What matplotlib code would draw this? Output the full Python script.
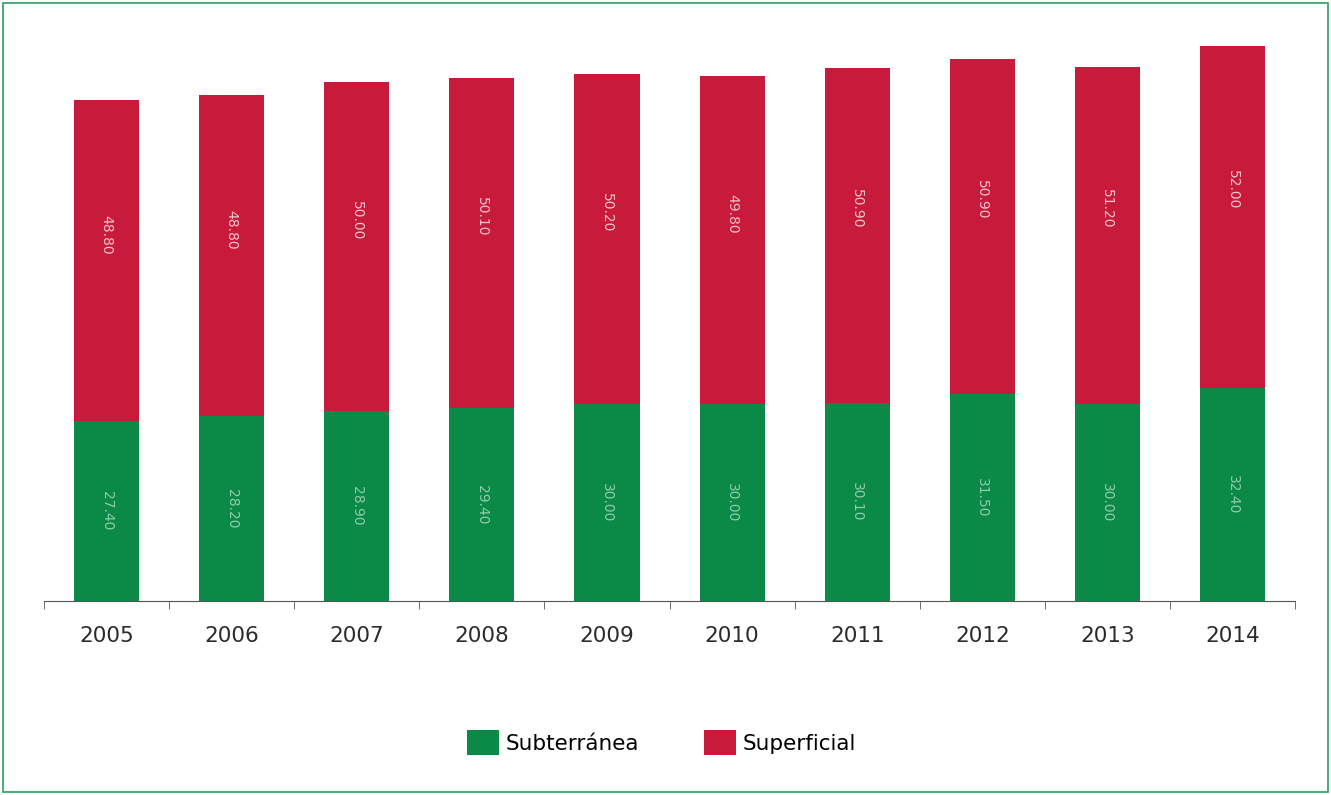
import numpy as np
import matplotlib
matplotlib.use("Agg")
import matplotlib.pyplot as plt
from matplotlib.patches import Rectangle

# Data (km3)
years = ["2005", "2006", "2007", "2008", "2009", "2010", "2011", "2012", "2013", "2014"]
subterranea = [27.4, 28.2, 28.9, 29.4, 30.0, 30.0, 30.1, 31.5, 30.0, 32.4]
superficial = [48.8, 48.8, 50.0, 50.1, 50.2, 49.8, 50.9, 50.9, 51.2, 52.0]

green = "#0b8a47"
red = "#c81a3a"

fig = plt.figure(figsize=(13.31, 7.95), dpi=100)
ax = fig.add_axes([0.0331, 0.244, 0.9399, 0.699])

x = np.arange(len(years))
w = 0.52
ax.bar(x, subterranea, width=w, color=green, label="Subterránea")
ax.bar(x, superficial, width=w, bottom=subterranea, color=red, label="Superficial")

# value labels inside the bars
for i in range(len(years)):
    ax.text(x[i], subterranea[i] / 2, f"{subterranea[i]:.2f}", rotation=270,
            ha="center", va="center", color="white", alpha=0.55, fontsize=10)
    ax.text(x[i], subterranea[i] + superficial[i] * 0.58, f"{superficial[i]:.2f}",
            rotation=270, ha="center", va="center", color="white", alpha=0.75, fontsize=10)

ax.set_xlim(-0.5, len(years) - 0.5)
ax.set_ylim(0, 84.5)
ax.set_yticks([])
ax.set_xticks(x)
ax.set_xticklabels(years, fontsize=15.5, color="#2b2b2b", fontweight="medium")
ax.set_xticks(np.arange(-0.5, len(years)), minor=True)
ax.tick_params(axis="x", which="major", length=0, pad=18)
ax.tick_params(axis="x", which="minor", length=6, color="#555555", direction="out")
for s in ["top", "right", "left"]:
    ax.spines[s].set_visible(False)
ax.spines["bottom"].set_color("#555555")

fig.legend(loc="center", bbox_to_anchor=(0.497, 0.066), ncol=2, frameon=False,
           prop={"size": 15.5}, handlelength=1.5, handleheight=1.4, handletextpad=0.3,
           columnspacing=3.0)

# green frame around the figure
fig.patches.append(Rectangle((0.002, 0.004), 0.996, 0.992, transform=fig.transFigure,
                             fill=False, edgecolor="#2e9e62", linewidth=1.2))

fig.savefig("out.png", dpi=100)
